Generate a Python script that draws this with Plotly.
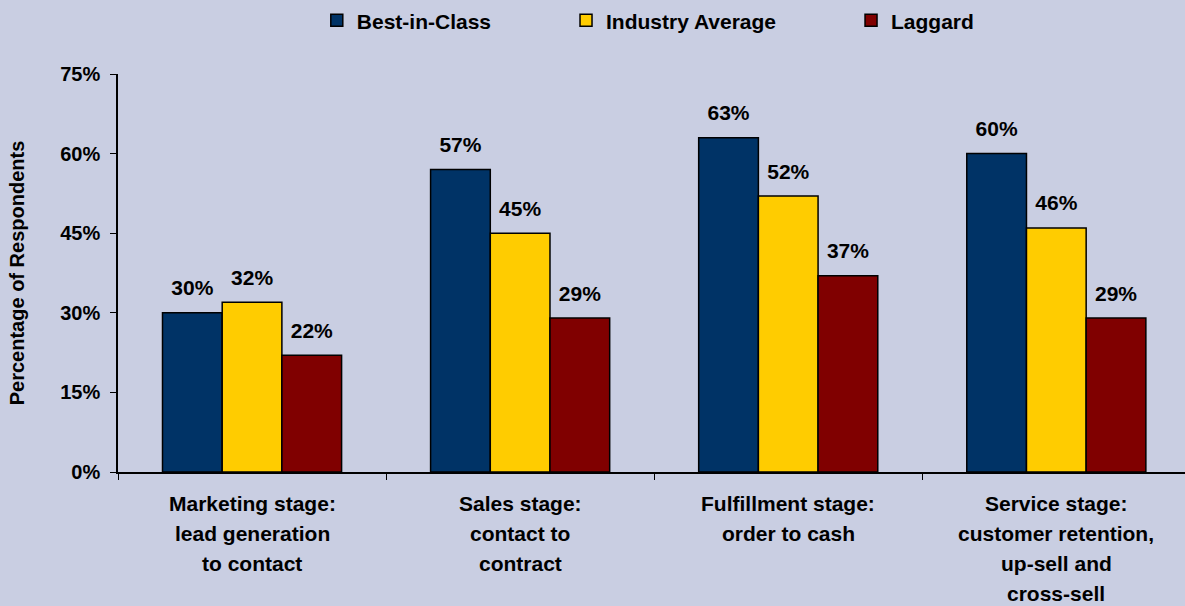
import plotly.graph_objects as go

stages = ["Marketing", "Sales", "Fulfillment", "Service"]
stage_labels = [
    ["Marketing stage:", "lead generation", "to contact"],
    ["Sales stage:", "contact to", "contract"],
    ["Fulfillment stage:", "order to cash"],
    ["Service stage:", "customer retention,", "up-sell and", "cross-sell"],
]
best_in_class = [30, 57, 63, 60]
industry_average = [32, 45, 52, 46]
laggard = [22, 29, 37, 29]

series = [
    ("Best-in-Class", best_in_class, "#003366"),
    ("Industry Average", industry_average, "#FFCC00"),
    ("Laggard", laggard, "#800000"),
]

FONT = "Liberation Sans, Arial, sans-serif"
BG = "#C9CEE2"
BOLD = dict(family=FONT, size=21, color="black", weight="bold")

fig = go.Figure()
for i, (name, vals, color) in enumerate(series):
    # pad legend names so the entries spread out like the original
    label = name + ("\u00a0" * 12 if i < len(series) - 1 else "")
    fig.add_trace(go.Bar(
        x=stages, y=vals, name=label, offsetgroup=str(i),
        marker=dict(color=color, line=dict(color="black", width=1.5)),
    ))
    # value labels as grouped text points, lifted a bit above the bar tops
    fig.add_trace(go.Scatter(
        x=stages, y=vals, mode="markers+text", offsetgroup=str(i),
        text=[f"{v}%" for v in vals], textposition="top center",
        textfont=BOLD, marker=dict(size=18, opacity=0),
        showlegend=False, hoverinfo="skip", cliponaxis=False,
    ))

# category labels with wider line spacing than tick labels allow
for stage, lines in zip(stages, stage_labels):
    for j, line in enumerate(lines):
        fig.add_annotation(x=stage, y=0, xref="x", yref="y", text=line,
                           showarrow=False, yanchor="middle",
                           yshift=-31 - 30 * j, font=BOLD)

fig.update_layout(
    width=1185, height=606,
    barmode="group", bargap=0.332, bargroupgap=0,
    scattermode="group", scattergap=0.332,
    paper_bgcolor=BG, plot_bgcolor=BG,
    margin=dict(l=118, r=0, t=70, b=134),
    font=BOLD,
    legend=dict(orientation="h", x=0.497, xanchor="center", y=1.134, yanchor="middle",
                font=BOLD, bgcolor="rgba(0,0,0,0)"),
    showlegend=True,
)
fig.update_xaxes(
    range=[-0.5, 3.48], showticklabels=False, showline=True, linecolor="black", linewidth=1.5,
    ticks="outside", tickson="boundaries", ticklen=6, tickcolor="black", showgrid=False,
)
fig.update_yaxes(
    range=[0, 75], dtick=15, ticksuffix="%", showline=True, linecolor="black", linewidth=1.5,
    ticks="outside", ticklen=6, tickcolor="black", showgrid=False, zeroline=False,
    ticklabelstandoff=6,
    tickfont=dict(family=FONT, size=20, color="black", weight="bold"),
    title=dict(text="Percentage of Respondents", standoff=30,
               font=dict(family=FONT, size=20, color="black", weight="bold")),
)

fig.write_html("out.html", config={"displayModeBar": False},
               post_script="document.body.style.margin='0';")
